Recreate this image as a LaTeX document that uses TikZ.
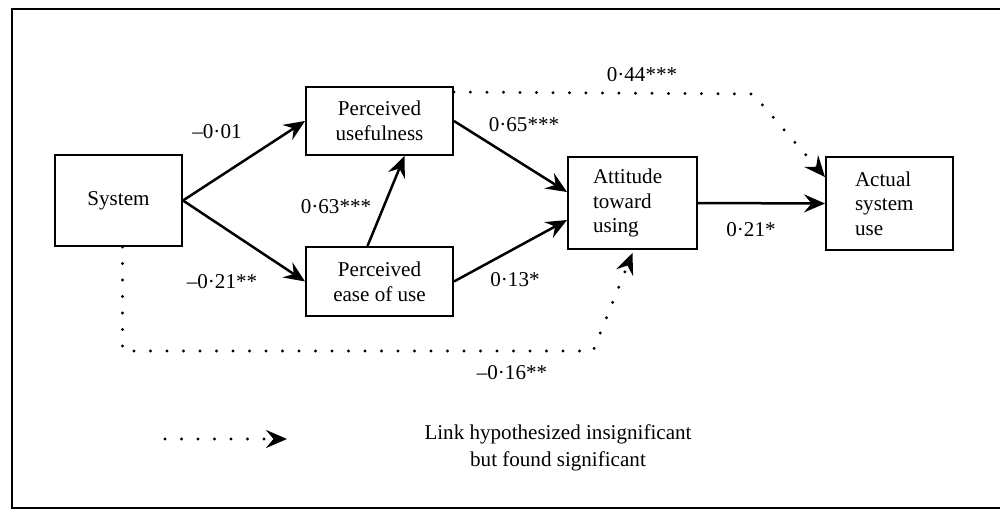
\documentclass[tikz,border=0pt]{standalone}
\usepackage{fontspec}
\setmainfont{Liberation Serif}
\usepackage{tikz}
\usetikzlibrary{calc,arrows.meta}

\begin{document}
\begin{tikzpicture}[x=0.02cm,y=-0.02cm,font=\fontsize{12}{14}\selectfont,
 box/.style={rectangle,draw,line width=0.04cm,inner sep=0pt,align=center},
 lbox/.style={rectangle,draw,line width=0.04cm,inner ysep=0pt,align=left},
 arr/.style={line width=0.05cm,-{Stealth[length=0.42cm,width=0.36cm,inset=0.15cm]}},
 hyp/.style={line width=0.065cm,line cap=round,dash pattern=on 0pt off 0.33cm,-{Stealth[length=0.42cm,width=0.36cm,inset=0.15cm]}}]
 \useasboundingbox (0,0) rectangle (1000,510);

 \draw[line width=0.05cm] (1000,9)--(12,9)--(12,508)--(1000,508);

 \node at (118.5,200.5) [box,minimum width=2.54cm,minimum height=1.82cm] (sys) {System};
 \node at (379.5,121) [box,minimum width=2.94cm,minimum height=1.36cm] (pu) {Perceived\\usefulness};
 \node at (379.5,281.5) [box,minimum width=2.94cm,minimum height=1.38cm] (peou) {Perceived\\ease of use};
 \node at (632.5,203) [lbox,inner xsep=0.5cm,text width=1.58cm,minimum height=1.84cm] (att) {Attitude\\toward\\using};
 \node at (889.5,203.5) [lbox,inner xsep=0.58cm,text width=1.38cm,minimum height=1.86cm] (act) {Actual\\system\\use};

 \draw[arr] (sys.east)--(pu.west);
 \draw[arr] (sys.east)--(peou.west);
 \draw[arr] ($(peou.north)+(-12,0)$)--($(pu.south)+(25,0)$);
 \draw[arr] (pu.east)--($(att.west)+(0,-11)$);
 \draw[arr] (peou.east)--($(att.west)+(0,17)$);
 \draw[arr] (att.east)--(act.west);

 % links found significant
 \coordinate (c1) at (753,94);
 \draw[hyp] ($(pu.north east)+(0,6)$)--(c1)--($(act.north west)+(0,21)$);
 \coordinate (c2) at (122.5,351);
 \coordinate (c3) at (593,351);
 \draw[hyp] ($(sys.south)+(4,0)$)--(c2)--(c3)--($(att.south)+(0,3)$);

 \node at (217,132) (w1) {--0·01};
 \node at (222,282) (w2) {--0·21**};
 \node at (336,207) (w3) {0·63***};
 \node at (524,125) (w4) {0·65***};
 \node at (515,280) (w5) {0·13*};
 \node at (751,230) (w6) {0·21*};
 \node at (642,75) (w7) {0·44***};
 \node at (512,373) (w8) {--0·16**};

 % key
 \coordinate (k1) at (165,439);
 \coordinate (k2) at (287,439);
 \draw[hyp] (k1)--(k2);
 \node at (558,448) [align=center,font=\fontsize{12}{15.5}\selectfont] (key) {Link hypothesized insignificant\\but found significant};
\end{tikzpicture}
\end{document}
